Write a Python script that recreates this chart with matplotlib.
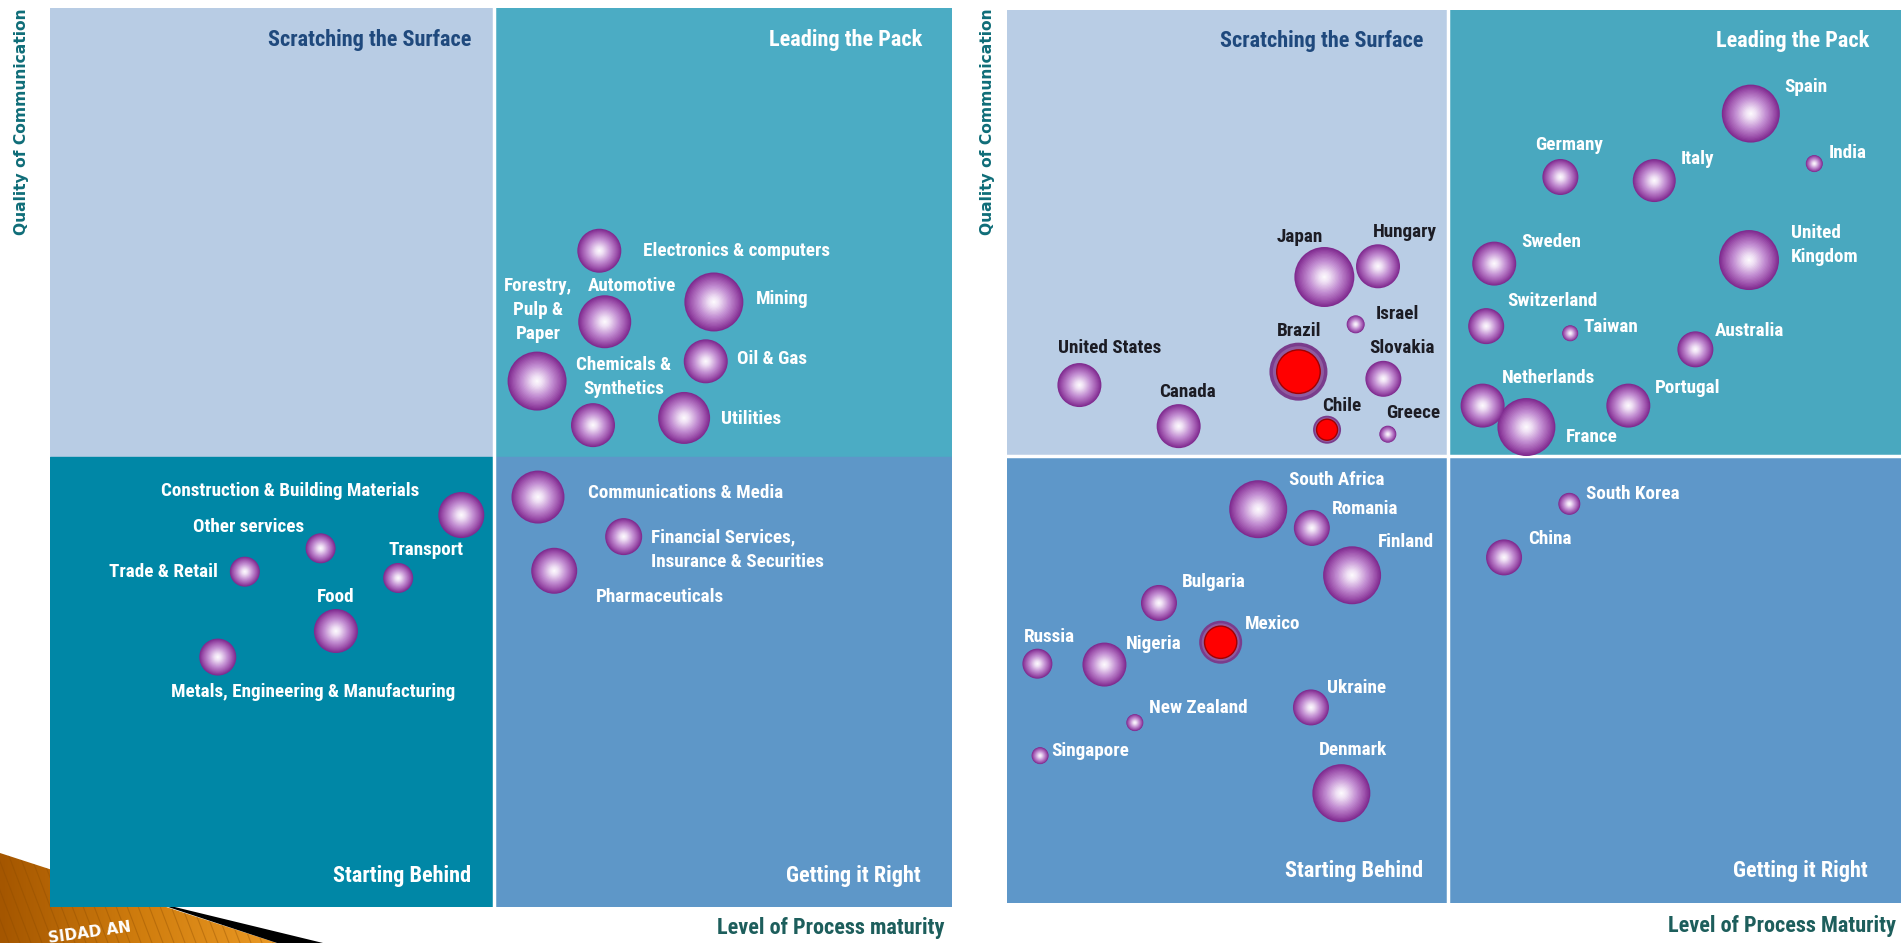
import numpy as np
import matplotlib
matplotlib.use('Agg')
import matplotlib.pyplot as plt
from matplotlib import font_manager as fm
from matplotlib.patches import Rectangle, Polygon

W, H, DPI = 1901, 943, 100

# ---- data: industries (left chart), scores 0-100, bubble radius in px
ind_names = ['Electronics & computers', 'Automotive', 'Mining', 'Oil & Gas',
             'Forestry,\nPulp &\nPaper', 'Chemicals &\nSynthetics', 'Utilities',
             'Construction & Building Materials', 'Other services', 'Trade & Retail',
             'Transport', 'Food', 'Metals, Engineering & Manufacturing',
             'Communications & Media', 'Financial Services,\nInsurance & Securities',
             'Pharmaceuticals']
ind_x = [60.9, 61.5, 73.6, 72.7, 54.0, 60.2, 70.3, 45.6, 30.0, 21.6, 38.6, 31.7, 18.6, 54.1, 63.6, 55.9]
ind_y = [73.0, 65.1, 67.3, 60.7, 58.5, 53.6, 54.4, 43.6, 39.9, 37.3, 36.6, 30.7, 27.8, 45.6, 41.2, 37.4]
ind_r = [22, 26.5, 29.5, 22, 29.5, 22, 26, 23, 15, 15, 15, 22, 18.5, 26.5, 18.5, 23]

# ---- data: countries (right chart)
cty_names = ['Spain', 'Germany', 'Italy', 'India', 'Japan', 'Hungary', 'Sweden',
             'United\nKingdom', 'Switzerland', 'Israel', 'Taiwan', 'Brazil', 'Australia',
             'United States', 'Slovakia', 'Canada', 'Netherlands', 'France', 'Portugal',
             'Chile', 'Greece', 'South Africa', 'Romania', 'Finland', 'Bulgaria', 'Mexico',
             'Russia', 'Nigeria', 'Ukraine', 'New Zealand', 'Singapore', 'Denmark',
             'South Korea', 'China']
cty_x = [83.2, 61.9, 72.4, 90.3, 35.5, 41.5, 54.5, 83.0, 53.6, 39.0, 63.0, 32.6, 77.0,
         8.1, 42.1, 19.2, 53.2, 58.1, 69.5, 35.8, 42.6, 28.1, 34.1, 38.6, 17.0, 23.9,
         3.4, 10.9, 34.0, 14.3, 3.7, 37.4, 62.9, 55.6]
cty_y = [88.4, 81.3, 80.9, 82.8, 70.1, 71.3, 71.6, 72.0, 64.6, 64.8, 63.8, 59.5, 62.0,
         58.0, 58.7, 53.4, 55.7, 53.3, 55.7, 53.0, 52.5, 44.1, 42.0, 36.7, 33.6, 29.2,
         26.8, 26.7, 21.9, 20.2, 16.5, 12.3, 44.7, 38.7]
cty_r = [29, 18, 21.5, 8.5, 30, 22, 22, 30, 18, 9, 8, 29, 18, 22, 18, 22, 22, 29, 22,
         14, 8.5, 29, 18, 29, 18, 21.5, 15, 22, 18, 8.5, 8.5, 29, 11, 18]
highlighted = ['Brazil', 'Chile', 'Mexico']

quad_titles = ['Scratching the Surface', 'Leading the Pack', 'Starting Behind', 'Getting it Right']

# ---- label layout: (dx, dy in image px from bubble centre, alignment)
ind_lab = [(44, 0, 'left'), (27, -36, 'center'), (42, -3, 'left'), (31, -2, 'left'),
           (1, -71, 'center'), (31, -48, 'center'), (37, 1, 'left'), (-171, -24, 'center'),
           (-72, -21, 'center'), (-81, 0, 'center'), (28, -28, 'center'), (0, -34, 'center'),
           (95, 35, 'center'), (50, -4, 'left'), (27, 13, 'left'), (42, 26, 'left')]
cty_lab = [(33, -27, 'left'), (9, -32, 'center'), (26, -22, 'left'), (14, -11, 'left'),
           (-25, -40, 'center'), (27, -34, 'center'), (27, -22, 'left'), (42, -15, 'left'),
           (66, -25, 'center'), (20, -10, 'left'), (13, -6, 'left'), (1, -41, 'center'),
           (19, -18, 'left'), (30, -37, 'center'), (19, -31, 'center'), (9, -34, 'center'),
           (66, -28, 'center'), (39, 10, 'left'), (27, -18, 'left'), (15, -24, 'center'),
           (25, -21, 'center'), (79, -29, 'center'), (20, -19, 'left'), (26, -33, 'left'),
           (23, -21, 'left'), (24, -18, 'left'), (12, -27, 'center'), (21, -21, 'left'),
           (16, -19, 'left'), (14, -15, 'left'), (11, -5, 'left'), (12, -43, 'center'),
           (17, -10, 'left'), (24, -18, 'left')]

names = {f.name for f in fm.fontManager.ttflist}
NARROW = 'DejaVu Sans'
for cand in ['Liberation Sans Narrow', 'Roboto Condensed', 'Open Sans Condensed']:
    if cand in names:
        NARROW = cand
        break

fig = plt.figure(figsize=(W / DPI, H / DPI), dpi=DPI)
fig.patch.set_facecolor('white')


def px(x, y):
    return x / W, 1 - y / H


def grad(t):
    stops = np.array([[0.0, 1.0, 1.0, 1.0],
                      [0.2, 0.94, 0.88, 0.96],
                      [0.55, 0.76, 0.55, 0.82],
                      [0.85, 0.60, 0.30, 0.66],
                      [1.0, 0.50, 0.17, 0.56]])
    return [np.interp(t, stops[:, 0], stops[:, i]) for i in (1, 2, 3)]


def bubbles(ax, xs, ys, rads, red_mask):
    xs, ys, rads = np.array(xs), np.array(ys), np.array(rads)
    red_mask = np.array(red_mask)
    n = 22
    norm = ~red_mask
    for k in range(n):
        t = 1 - k / n
        s = (2 * rads[norm] * t * 72 / DPI) ** 2
        ax.scatter(xs[norm], ys[norm], s=s, color=[grad(t)], linewidths=0, zorder=3 + k * 0.01)
    # highlighted ones: purple ring + red disc
    ax.scatter(xs[red_mask], ys[red_mask], s=(2 * rads[red_mask] * 72 / DPI) ** 2,
               color='#7a3c8c', linewidths=0, zorder=3)
    ax.scatter(xs[red_mask], ys[red_mask], s=(2 * rads[red_mask] * 0.88 * 72 / DPI) ** 2,
               color='#8f5a9f', linewidths=0, zorder=3.1)
    ax.scatter(xs[red_mask], ys[red_mask], s=(2 * rads[red_mask] * 0.75 * 72 / DPI) ** 2,
               color='#ff0000', edgecolors='#a00000', linewidths=1.0, zorder=3.2)


def panel(box, xdiv, ydiv, colors, hline):
    l, t, r, b = box
    ax = fig.add_axes([l / W, 1 - b / H, (r - l) / W, (b - t) / H])
    ax.set_xlim(0, 100)
    ax.set_ylim(0, 100)
    ax.axis('off')
    ax.add_patch(Rectangle((0, ydiv), xdiv, 100 - ydiv, color=colors[0], zorder=0))
    ax.add_patch(Rectangle((xdiv, ydiv), 100 - xdiv, 100 - ydiv, color=colors[1], zorder=0))
    ax.add_patch(Rectangle((0, 0), xdiv, ydiv, color=colors[2], zorder=0))
    ax.add_patch(Rectangle((xdiv, 0), 100 - xdiv, ydiv, color=colors[3], zorder=0))
    ax.axvline(xdiv, color='white', lw=2.5, zorder=1)
    if hline:
        ax.axhline(ydiv, color='white', lw=2.5, zorder=1)
    return ax


def labels(ax, nm, xs, ys, lay, dark_fn):
    for n_, x, y, (dx, dy, ha) in zip(nm, xs, ys, lay):
        col = '#1c1c24' if dark_fn(x, y) else 'white'
        ax.annotate(n_, (x, y), xytext=(dx, -dy), textcoords='offset pixels',
                    ha=ha, va='center', fontsize=13.8, color=col, family=NARROW,
                    fontweight='bold', linespacing=1.45, zorder=6)


# orange logo remnant in the corner (small pixel-space axes behind the panels)
axO = fig.add_axes([0, 0, 340 / W, 100 / H], zorder=-1)
axO.set_xlim(0, 340)
axO.set_ylim(943, 843)
axO.axis('off')
shape = Polygon([(0, 853), (277, 943), (0, 943)], closed=True, facecolor='none', edgecolor='none')
axO.add_patch(shape)
g = np.linspace(0, 1, 200)[None, :]
img = axO.imshow(np.repeat(g, 10, axis=0), cmap=matplotlib.colors.LinearSegmentedColormap.from_list(
    'org', ['#a45600', '#d07d0e', '#eb9a25']), extent=(0, 280, 943, 843), aspect='auto')
img.set_clip_path(shape)
for x0 in np.arange(-40, 280, 11):
    ln, = axO.plot([x0, x0 + 38], [843, 943], color='#8a4a00', lw=0.8, alpha=0.35)
    ln.set_clip_path(shape)
axO.add_patch(Polygon([(150, 901), (323, 943), (277, 943)], closed=True,
                      facecolor='black', edgecolor='none'))
axO.text(90, 933, 'SIDAD AN', color='white', fontsize=11, fontweight='bold',
         rotation=8, ha='center', va='center', family='DejaVu Sans')

# ---- left chart (industries)
axL = panel((50, 8, 952, 907), 49.2, 50.1, ['#b8cce4', '#4bacc4', '#0087a6', '#5e97c8'], False)
bubbles(axL, ind_x, ind_y, ind_r, [False] * len(ind_x))
labels(axL, ind_names, ind_x, ind_y, ind_lab, lambda x, y: False)

# ---- right chart (countries)
axR = panel((1007, 10, 1901, 903), 49.3, 50.1, ['#b9cde5', '#49a8bf', '#5e97c9', '#5e97c9'], True)
bubbles(axR, cty_x, cty_y, cty_r, [n in highlighted for n in cty_names])
labels(axR, cty_names, cty_x, cty_y, cty_lab, lambda x, y: x < 49.3 and y > 50.1)

# quadrant titles
title_pos = [[(471, 40), (922, 40), (471, 876), (921, 876)],
             [(1423, 41), (1869, 41), (1423, 871), (1868, 871)]]
for pos in title_pos:
    for i, (tx, ty) in enumerate(pos):
        fig.text(*px(tx, ty), quad_titles[i], ha='right', va='center', fontsize=16,
                 fontweight='bold', family=NARROW, color='#1f497d' if i == 0 else 'white')

# axis titles
for xx in (22, 987):
    fig.text(*px(xx, 8), 'Quality of Communication', rotation=90, ha='center', va='top',
             fontsize=11.2, fontweight='bold', color='#0f6d78', family='DejaVu Sans')
fig.text(*px(944, 928), 'Level of Process maturity', ha='right', va='center', fontsize=16,
         fontweight='bold', family=NARROW, color='#1d5e5c')
fig.text(*px(1896, 926), 'Level of Process Maturity', ha='right', va='center', fontsize=16,
         fontweight='bold', family=NARROW, color='#1d5e5c')

fig.savefig('out.png', dpi=DPI)
